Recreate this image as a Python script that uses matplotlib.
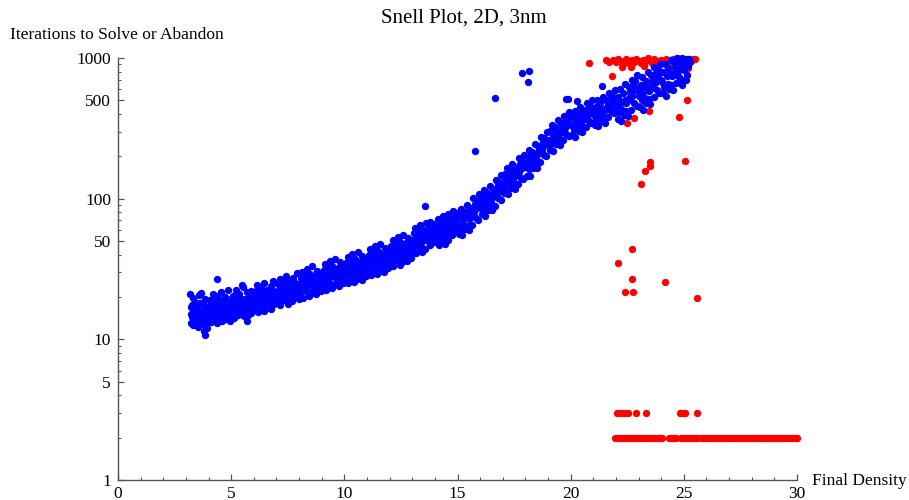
import matplotlib
matplotlib.use("Agg")
import matplotlib.pyplot as plt
from matplotlib.ticker import FixedLocator, NullFormatter

plt.rcParams['font.family'] = ['Liberation Serif', 'DejaVu Serif']

# ---------------- data ----------------
title = "Snell Plot, 2D, 3nm"
x_label = "Final Density"
y_label = "Iterations to Solve or Abandon"
x_ticks = [0, 5, 10, 15, 20, 25, 30]
y_ticks = [1, 5, 10, 50, 100, 500, 1000]

# solved runs (blue)
blue_x = [
    3.21, 3.23, 3.26, 3.28, 3.31, 3.33, 3.36, 3.38, 3.41, 3.43,
    3.46, 3.48, 3.51, 3.53, 3.56, 3.58, 3.61, 3.63, 3.66, 3.68,
    3.71, 3.73, 3.76, 3.78, 3.81, 3.83, 3.86, 3.88, 3.91, 3.93,
    3.96, 3.98, 3.24, 3.44, 3.64, 3.84, 3.35, 3.55, 3.75, 3.95,
    4.01, 4.04, 4.06, 4.09, 4.11, 4.14, 4.16, 4.19, 4.21, 4.24,
    4.26, 4.29, 4.31, 4.34, 4.36, 4.39, 4.41, 4.44, 4.46, 4.49,
    4.51, 4.54, 4.56, 4.59, 4.61, 4.64, 4.66, 4.69, 4.71, 4.74,
    4.76, 4.79, 4.81, 4.84, 4.86, 4.89, 4.91, 4.94, 4.96, 4.99,
    5.02, 5.05, 5.08, 5.11, 5.14, 5.17, 5.2, 5.23, 5.26, 5.29,
    5.32, 5.35, 5.38, 5.41, 5.44, 5.47, 5.5, 5.53, 5.56, 5.59,
    5.62, 5.65, 5.68, 5.71, 5.74, 5.77, 5.8, 5.83, 5.86, 5.89,
    5.92, 5.95, 5.98, 5.12, 5.37, 5.61, 5.85, 5.46, 5.72, 5.97,
    6.02, 6.05, 6.08, 6.11, 6.14, 6.17, 6.2, 6.23, 6.26, 6.29,
    6.32, 6.35, 6.38, 6.41, 6.44, 6.47, 6.5, 6.53, 6.56, 6.59,
    6.62, 6.65, 6.68, 6.71, 6.74, 6.77, 6.8, 6.83, 6.86, 6.89,
    6.92, 6.95, 6.98, 6.15, 6.4, 6.64, 6.88, 6.27, 6.52, 6.78,
    7.02, 7.05, 7.08, 7.11, 7.14, 7.17, 7.2, 7.23, 7.26, 7.29,
    7.32, 7.35, 7.38, 7.41, 7.44, 7.47, 7.5, 7.53, 7.56, 7.59,
    7.62, 7.65, 7.68, 7.71, 7.74, 7.77, 7.8, 7.83, 7.86, 7.89,
    7.92, 7.95, 7.98, 7.16, 7.4, 7.64, 7.88, 7.28, 7.52, 7.76,
    8.02, 8.05, 8.08, 8.11, 8.14, 8.17, 8.2, 8.23, 8.26, 8.29,
    8.32, 8.35, 8.38, 8.41, 8.44, 8.47, 8.5, 8.53, 8.56, 8.59,
    8.62, 8.65, 8.68, 8.71, 8.74, 8.77, 8.8, 8.83, 8.86, 8.89,
    8.92, 8.95, 8.98, 8.16, 8.4, 8.64, 8.88, 8.28, 8.52, 8.76,
    9.02, 9.05, 9.08, 9.11, 9.14, 9.17, 9.2, 9.23, 9.26, 9.29,
    9.32, 9.35, 9.38, 9.41, 9.44, 9.47, 9.5, 9.53, 9.56, 9.59,
    9.62, 9.65, 9.68, 9.71, 9.74, 9.77, 9.8, 9.83, 9.86, 9.89,
    9.92, 9.95, 9.98, 9.16, 9.4, 9.64, 9.88, 9.28, 9.52, 9.76,
    10.02, 10.05, 10.08, 10.11, 10.14, 10.17, 10.2, 10.23, 10.26, 10.29,
    10.32, 10.35, 10.38, 10.41, 10.44, 10.47, 10.5, 10.53, 10.56, 10.59,
    10.62, 10.65, 10.68, 10.71, 10.74, 10.77, 10.8, 10.83, 10.86, 10.89,
    10.92, 10.95, 10.98, 10.16, 10.4, 10.64, 10.88, 10.28, 10.52, 10.76,
    11.02, 11.05, 11.08, 11.11, 11.14, 11.17, 11.2, 11.23, 11.26, 11.29,
    11.32, 11.35, 11.38, 11.41, 11.44, 11.47, 11.5, 11.53, 11.56, 11.59,
    11.62, 11.65, 11.68, 11.71, 11.74, 11.77, 11.8, 11.83, 11.86, 11.89,
    11.92, 11.95, 11.98, 11.16, 11.4, 11.64, 11.88, 11.28, 11.52, 11.76,
    12.02, 12.05, 12.08, 12.11, 12.14, 12.17, 12.2, 12.23, 12.26, 12.29,
    12.32, 12.35, 12.38, 12.41, 12.44, 12.47, 12.5, 12.53, 12.56, 12.59,
    12.62, 12.65, 12.68, 12.71, 12.74, 12.77, 12.8, 12.83, 12.86, 12.89,
    12.92, 12.95, 12.98, 12.16, 12.4, 12.64, 12.88, 12.28, 12.52, 12.76,
    13.02, 13.05, 13.08, 13.11, 13.14, 13.17, 13.2, 13.23, 13.26, 13.29,
    13.32, 13.35, 13.38, 13.41, 13.44, 13.47, 13.5, 13.53, 13.56, 13.59,
    13.62, 13.65, 13.68, 13.71, 13.74, 13.77, 13.8, 13.83, 13.86, 13.89,
    13.92, 13.95, 13.98, 13.16, 13.4, 13.64, 13.88, 13.28, 13.52, 13.76,
    14.02, 14.05, 14.08, 14.11, 14.14, 14.17, 14.2, 14.23, 14.26, 14.29,
    14.32, 14.35, 14.38, 14.41, 14.44, 14.47, 14.5, 14.53, 14.56, 14.59,
    14.62, 14.65, 14.68, 14.71, 14.74, 14.77, 14.8, 14.83, 14.86, 14.89,
    14.92, 14.95, 14.98, 14.16, 14.4, 14.64, 14.88, 14.28, 14.52, 14.76,
    15.03, 15.07, 15.1, 15.14, 15.17, 15.21, 15.24, 15.28, 15.31, 15.35,
    15.38, 15.42, 15.45, 15.49, 15.52, 15.56, 15.59, 15.63, 15.66, 15.7,
    15.73, 15.77, 15.8, 15.84, 15.87, 15.91, 15.94, 15.98, 15.5, 15.6,
    16.03, 16.07, 16.1, 16.14, 16.17, 16.21, 16.24, 16.28, 16.31, 16.35,
    16.38, 16.42, 16.45, 16.49, 16.52, 16.56, 16.59, 16.63, 16.66, 16.7,
    16.73, 16.77, 16.8, 16.84, 16.87, 16.91, 16.94, 16.98, 16.5, 16.6,
    16.2, 16.46, 16.7, 16.88, 16.12, 16.33,
    17.03, 17.07, 17.1, 17.14, 17.17, 17.21, 17.24, 17.28, 17.31, 17.35,
    17.38, 17.42, 17.45, 17.49, 17.52, 17.56, 17.59, 17.63, 17.66, 17.7,
    17.73, 17.77, 17.8, 17.84, 17.87, 17.91, 17.94, 17.98, 17.5, 17.6,
    17.2, 17.45, 17.68, 17.88, 17.12, 17.33,
    18.03, 18.07, 18.1, 18.14, 18.17, 18.21, 18.24, 18.28, 18.31, 18.35,
    18.38, 18.42, 18.45, 18.49, 18.52, 18.56, 18.59, 18.63, 18.66, 18.7,
    18.73, 18.77, 18.8, 18.84, 18.87, 18.91, 18.94, 18.98, 18.5, 18.6,
    18.2, 18.45, 18.68, 18.88, 18.12, 18.33,
    19.03, 19.07, 19.1, 19.14, 19.17, 19.21, 19.24, 19.28, 19.31, 19.35,
    19.38, 19.42, 19.45, 19.49, 19.52, 19.56, 19.59, 19.63, 19.66, 19.7,
    19.73, 19.77, 19.8, 19.84, 19.87, 19.91, 19.94, 19.98, 19.5, 19.6,
    19.2, 19.45, 19.68, 19.88, 19.8, 19.9,
    20.03, 20.07, 20.1, 20.14, 20.17, 20.21, 20.24, 20.28, 20.31, 20.35,
    20.38, 20.42, 20.45, 20.49, 20.52, 20.56, 20.59, 20.63, 20.66, 20.7,
    20.73, 20.77, 20.8, 20.84, 20.87, 20.91, 20.94, 20.98, 20.5, 20.6,
    20.2, 20.45, 20.68, 20.88, 20.27,
    21.03, 21.07, 21.1, 21.14, 21.17, 21.21, 21.24, 21.28, 21.31, 21.35,
    21.38, 21.42, 21.45, 21.49, 21.52, 21.56, 21.59, 21.63, 21.66, 21.7,
    21.73, 21.77, 21.8, 21.84, 21.87, 21.91, 21.94, 21.98, 21.5, 21.37,
    21.2, 21.45, 21.68, 21.88,
    22.03, 22.07, 22.1, 22.14, 22.17, 22.21, 22.24, 22.28, 22.31, 22.35,
    22.38, 22.42, 22.45, 22.49, 22.52, 22.56, 22.59, 22.63, 22.66, 22.7,
    22.73, 22.77, 22.8, 22.84, 22.87, 22.91, 22.94, 22.98, 22.5, 22.6,
    22.2, 22.45, 22.68, 22.88,
    23.03, 23.07, 23.1, 23.14, 23.17, 23.21, 23.24, 23.28, 23.31, 23.35,
    23.38, 23.42, 23.45, 23.49, 23.52, 23.56, 23.59, 23.63, 23.66, 23.7,
    23.73, 23.77, 23.8, 23.84, 23.87, 23.91, 23.94, 23.98, 23.5, 23.6,
    23.2, 23.45, 23.68, 23.88,
    24.03, 24.07, 24.1, 24.14, 24.17, 24.21, 24.24, 24.28, 24.31, 24.35,
    24.38, 24.42, 24.45, 24.49, 24.52, 24.56, 24.59, 24.63, 24.66, 24.7,
    24.73, 24.77, 24.8, 24.84, 24.87, 24.91, 24.94, 24.98, 24.5, 24.6,
    25.02, 25.06, 25.1, 25.14, 25.18, 25.22, 25.26, 24.92, 25.13, 24.72,
    16.66, 17.84, 18.18, 18.1, 15.76, 13.57, 3.18, 4.36, 3.84,
]
blue_y = [
    15.2, 13.1, 17.6, 14.4, 19.8, 12.6, 16.3, 14.9, 18.4, 13.5,
    16.1, 14.0, 17.2, 12.3, 20.6, 15.4, 13.8, 18.1, 12.9, 21.5,
    15.8, 13.3, 17.9, 11.4, 16.6, 14.2, 19.2, 12.7, 15.1, 17.0,
    13.9, 16.8, 16.9, 15.9, 14.7, 15.5, 17.1, 14.6, 15.0, 12.1,
    17.3, 14.1, 19.0, 15.6, 13.2, 18.2, 16.0, 21.0, 14.8, 16.9,
    13.7, 18.7, 15.3, 20.2, 16.4, 13.0, 17.7, 14.5, 19.5, 15.9,
    17.0, 14.0, 21.8, 16.2, 13.6, 18.9, 15.2, 17.5, 14.3, 20.0,
    16.6, 13.9, 18.0, 15.7, 22.4, 14.6, 17.2, 16.1, 13.4, 19.3,
    17.6, 15.0, 20.3, 16.4, 14.2, 19.1, 17.9, 22.6, 15.7, 18.5,
    14.8, 21.1, 17.0, 19.8, 15.4, 18.2, 16.3, 23.5, 14.6, 19.4,
    17.4, 15.9, 21.6, 18.8, 14.9, 20.1, 16.8, 19.0, 15.3, 22.0,
    18.1, 16.5, 20.7, 18.6, 17.4, 16.7, 17.8, 24.5, 13.6, 17.2,
    19.2, 16.4, 22.0, 17.8, 24.3, 15.6, 20.5, 18.4, 21.4, 16.9,
    23.1, 19.0, 17.3, 21.0, 15.9, 25.2, 18.7, 20.1, 16.6, 22.6,
    19.6, 17.5, 21.8, 18.1, 23.8, 16.3, 20.8, 19.3, 26.0, 17.9,
    21.2, 18.6, 20.0, 19.8, 20.2, 20.4, 22.2, 17.0, 19.5, 21.6,
    21.5, 18.3, 24.6, 20.0, 17.4, 26.8, 22.5, 19.4, 23.7, 20.9,
    18.9, 25.4, 21.8, 28.3, 19.7, 23.2, 17.8, 22.0, 26.1, 20.4,
    24.0, 21.2, 18.6, 27.3, 22.8, 19.9, 25.0, 23.4, 20.6, 29.4,
    22.3, 24.8, 19.2, 22.9, 23.0, 22.4, 24.4, 21.7, 23.6, 21.0,
    24.2, 20.6, 27.5, 22.8, 30.1, 19.8, 25.7, 23.5, 28.6, 21.9,
    26.4, 31.8, 22.2, 24.9, 20.3, 29.0, 25.3, 27.1, 21.4, 33.0,
    23.9, 26.8, 22.5, 28.2, 25.0, 20.9, 30.7, 24.5, 27.8, 23.2,
    26.0, 22.0, 29.5, 25.9, 26.2, 25.5, 25.6, 24.0, 24.6, 26.6,
    27.6, 23.4, 31.2, 25.8, 34.5, 22.6, 29.3, 26.7, 32.4, 24.8,
    30.0, 36.2, 25.2, 28.4, 23.0, 33.3, 28.9, 31.0, 24.3, 37.4,
    27.2, 30.6, 25.6, 32.0, 28.6, 23.8, 35.2, 28.0, 31.6, 26.4,
    29.7, 25.1, 33.8, 29.0, 29.8, 29.2, 29.4, 27.9, 28.2, 30.3,
    30.8, 26.0, 34.9, 28.7, 38.4, 25.2, 32.7, 29.8, 36.1, 27.6,
    33.4, 40.3, 28.0, 31.6, 25.6, 37.1, 32.2, 34.6, 27.0, 41.6,
    30.3, 34.1, 28.5, 35.7, 31.9, 26.6, 39.2, 31.2, 35.2, 29.4,
    33.0, 28.0, 37.7, 32.3, 33.2, 32.5, 32.8, 31.0, 31.4, 33.7,
    35.1, 29.7, 39.8, 32.7, 43.8, 28.7, 37.3, 34.0, 41.2, 31.5,
    38.1, 46.0, 32.0, 36.0, 29.2, 42.3, 36.7, 39.4, 30.8, 47.4,
    34.6, 38.9, 32.5, 40.7, 36.4, 30.3, 44.7, 35.6, 40.1, 33.5,
    37.6, 31.9, 43.0, 36.8, 37.8, 37.0, 37.4, 35.3, 35.8, 38.4,
    40.6, 34.4, 46.1, 37.9, 50.7, 33.2, 43.2, 39.4, 47.7, 36.5,
    44.1, 53.3, 37.1, 41.7, 33.8, 49.0, 42.5, 45.6, 35.7, 55.0,
    41.0, 46.0, 38.5, 48.2, 43.1, 35.9, 52.9, 42.1, 47.5, 39.7,
    44.5, 37.8, 50.9, 42.2, 43.4, 42.0, 43.9, 41.2, 40.0, 44.8,
    50.0, 42.5, 56.6, 46.7, 62.3, 41.0, 53.2, 48.6, 58.7, 45.0,
    54.3, 65.5, 45.8, 51.4, 41.7, 60.3, 52.4, 56.2, 44.0, 67.6,
    53.1, 59.6, 49.8, 62.4, 55.7, 46.5, 68.5, 54.6, 61.6, 51.4,
    57.7, 49.0, 65.9, 52.0, 53.6, 54.0, 56.5, 50.6, 51.0, 55.9,
    57.5, 48.9, 65.1, 53.7, 71.6, 47.2, 61.2, 55.9, 67.5, 51.8,
    62.6, 75.3, 52.7, 59.1, 48.0, 69.4, 60.3, 64.7, 50.6, 77.8,
    64.0, 71.4, 59.5, 74.5, 66.6, 55.5, 81.7, 65.3, 73.6, 61.4,
    68.9, 58.5, 78.8, 62.0, 63.6, 62.8, 66.0, 60.0, 57.0, 63.3,
    66.0, 56.4, 75.9, 61.2, 84.5, 55.0, 71.3, 64.7, 80.3, 60.6,
    73.9, 90.2, 64.4, 72.0, 60.0, 86.1, 76.0, 82.1, 64.7, 100.5,
    80.4, 91.0, 73.2, 96.4, 85.5, 71.0, 108.0, 86.6, 78.0, 79.5,
    90.0, 77.2, 103.1, 83.6, 114.5, 75.4, 97.5, 88.6, 109.0, 83.2,
    101.2, 123.0, 88.8, 99.0, 82.6, 118.0, 104.5, 112.3, 89.3, 136.4,
    110.2, 124.2, 100.5, 131.0, 117.0, 97.9, 146.5, 118.9, 105.0, 107.6,
    98.4, 93.0, 114.0, 125.0, 95.0, 100.0,
    130.0, 110.5, 149.0, 120.3, 165.0, 108.6, 140.0, 127.4, 157.0, 118.8,
    145.0, 177.0, 126.6, 141.5, 117.4, 168.0, 148.2, 160.5, 127.0, 193.0,
    155.4, 175.0, 141.0, 184.0, 165.0, 137.7, 205.0, 167.0, 150.0, 152.0,
    138.0, 133.0, 158.0, 176.0, 135.0, 143.0,
    172.0, 146.0, 199.0, 162.0, 222.0, 145.0, 190.0, 171.0, 215.0, 164.0,
    201.0, 246.0, 176.0, 198.0, 165.0, 238.0, 212.0, 230.0, 182.0, 276.0,
    223.0, 252.0, 205.0, 268.0, 240.0, 200.0, 300.0, 245.0, 210.0, 218.0,
    188.0, 190.0, 226.0, 258.0, 180.0, 195.0,
    262.0, 222.0, 302.0, 245.0, 336.0, 218.0, 285.0, 256.0, 322.0, 246.0,
    298.0, 360.0, 258.0, 290.0, 240.0, 345.0, 305.0, 330.0, 262.0, 390.0,
    316.0, 355.0, 288.0, 372.0, 335.0, 280.0, 410.0, 338.0, 295.0, 300.0,
    270.0, 275.0, 312.0, 350.0, 510.0, 512.0,
    332.0, 282.0, 380.0, 310.0, 420.0, 276.0, 356.0, 322.0, 404.0, 305.0,
    372.0, 445.0, 318.0, 360.0, 296.0, 428.0, 378.0, 408.0, 325.0, 475.0,
    390.0, 436.0, 356.0, 455.0, 412.0, 346.0, 500.0, 415.0, 365.0, 370.0,
    340.0, 345.0, 385.0, 430.0, 497.0,
    392.0, 333.0, 450.0, 366.0, 500.0, 326.0, 420.0, 382.0, 478.0, 358.0,
    436.0, 528.0, 372.0, 425.0, 345.0, 505.0, 445.0, 482.0, 380.0, 560.0,
    458.0, 512.0, 418.0, 535.0, 485.0, 405.0, 590.0, 490.0, 430.0, 630.0,
    400.0, 410.0, 455.0, 470.0,
    452.0, 370.0, 530.0, 410.0, 600.0, 355.0, 490.0, 430.0, 565.0, 395.0,
    505.0, 650.0, 420.0, 495.0, 385.0, 620.0, 520.0, 575.0, 430.0, 700.0,
    540.0, 640.0, 480.0, 690.0, 590.0, 455.0, 760.0, 580.0, 500.0, 515.0,
    470.0, 480.0, 545.0, 610.0,
    540.0, 445.0, 640.0, 500.0, 730.0, 430.0, 600.0, 520.0, 690.0, 480.0,
    620.0, 790.0, 515.0, 600.0, 470.0, 760.0, 640.0, 700.0, 530.0, 860.0,
    660.0, 780.0, 590.0, 830.0, 720.0, 560.0, 910.0, 700.0, 610.0, 625.0,
    570.0, 580.0, 660.0, 750.0,
    670.0, 560.0, 790.0, 620.0, 900.0, 540.0, 740.0, 650.0, 850.0, 600.0,
    770.0, 960.0, 640.0, 740.0, 590.0, 930.0, 790.0, 860.0, 660.0, 990.0,
    810.0, 950.0, 730.0, 980.0, 880.0, 700.0, 995.0, 860.0, 760.0, 780.0,
    820.0, 960.0, 700.0, 990.0, 880.0, 985.0, 940.0, 640.0, 760.0, 998.0,
    521.0, 785.0, 811.0, 671.0, 219.0, 88.0, 20.9, 26.7, 10.8,
]

# abandoned / failed runs (red)
red_x = [
    # near the iteration cap
    20.83, 21.55, 21.7, 21.85, 22.0, 22.1, 22.2, 22.35, 22.45, 22.55,
    22.6, 22.7, 22.8, 22.9, 23.0, 23.1, 23.2, 23.3, 23.4, 23.5,
    23.6, 23.7, 23.85, 24.0, 24.1, 24.2, 24.3, 24.4, 24.5, 24.6,
    24.7, 24.8, 24.9, 25.0, 25.1, 25.2, 25.35, 25.5, 22.65, 23.25,
    22.25, 24.35,
    # scattered
    25.13, 24.80, 22.80, 22.48, 23.45, 21.84, 23.14, 25.2, 25.42,
    25.06, 23.52, 23.52, 23.29, 23.11, 22.73, 22.08, 22.70, 24.16,
    22.42, 22.74, 25.60,
    # three iterations
    22.05, 22.15, 22.28, 22.4, 22.55, 22.88, 23.33, 24.85, 24.95, 25.05, 25.6,
    # two iterations
    21.98, 22.06, 22.14, 22.21, 22.29, 22.36, 22.44, 22.51, 22.58, 22.66,
    22.73, 22.8, 22.88, 22.95, 23.03, 23.1, 23.19, 23.27, 23.4, 23.48,
    23.56, 23.64, 23.72, 23.8, 23.88, 23.96, 24.02, 24.34, 24.42, 24.5,
    24.58, 24.66, 24.86, 24.94, 25.02, 25.1, 25.18, 25.26, 25.34, 25.42,
    25.5, 25.58, 25.64, 25.8, 25.88, 25.96, 26.04, 26.12, 26.2, 26.28,
    26.36, 26.44, 26.52, 26.6, 26.68, 26.76, 26.84, 26.92, 27.0, 27.08,
    27.16, 27.24, 27.32, 27.4, 27.48, 27.56, 27.64, 27.72, 27.8, 27.88,
    27.96, 28.04, 28.12, 28.2, 28.28, 28.36, 28.44, 28.52, 28.6, 28.68,
    28.76, 28.84, 28.92, 29.0, 29.08, 29.16, 29.24, 29.32, 29.4, 29.48,
    29.56, 29.64, 29.72, 29.8, 29.88, 29.96, 30.0,
]
red_y = [
    925, 960, 930, 975, 940, 990, 955, 920, 985, 945,
    900, 970, 930, 990, 950, 915, 975, 940, 995, 960,
    925, 985, 950, 970, 930, 990, 955, 910, 980, 940,
    995, 960, 920, 975, 945, 990, 960, 985, 860, 880,
    870, 850,
    505, 379, 372, 343, 417, 748, 642, 843, 985,
    185, 181, 171, 157, 127, 43.6, 34.7, 26.7, 25.7,
    21.7, 21.7, 19.8,
    3, 3, 3, 3, 3, 3, 3, 3, 3, 3, 3,
    2, 2, 2, 2, 2, 2, 2, 2, 2, 2,
    2, 2, 2, 2, 2, 2, 2, 2, 2, 2,
    2, 2, 2, 2, 2, 2, 2, 2, 2, 2,
    2, 2, 2, 2, 2, 2, 2, 2, 2, 2,
    2, 2, 2, 2, 2, 2, 2, 2, 2, 2,
    2, 2, 2, 2, 2, 2, 2, 2, 2, 2,
    2, 2, 2, 2, 2, 2, 2, 2, 2, 2,
    2, 2, 2, 2, 2, 2, 2, 2, 2, 2,
    2, 2, 2, 2, 2, 2, 2, 2, 2, 2,
    2, 2, 2, 2, 2, 2, 2,
]

nb = min(len(blue_x), len(blue_y))
nr = min(len(red_x), len(red_y))
if len(blue_x) != len(blue_y) or len(red_x) != len(red_y):
    print("length mismatch", len(blue_x), len(blue_y), len(red_x), len(red_y))

# ---------------- figure ----------------
W, H = 909, 500
fig = plt.figure(figsize=(W / 100, H / 100), dpi=100)
ax = fig.add_axes([118 / W, 1 - 480 / H, (797 - 118) / W, (480 - 58) / H])

ax.set_xscale('linear')
ax.set_yscale('log')
ax.set_xlim(0, 30)
ax.set_ylim(1, 1000)

ax.scatter(red_x[:nr], red_y[:nr], s=28, color='#ff0000', linewidths=0,
           clip_on=False, zorder=2)
ax.scatter(blue_x[:nb], blue_y[:nb], s=28, color='#0000ff', linewidths=0,
           clip_on=False, zorder=3)

axis_col = '#555555'
for side in ['top', 'right']:
    ax.spines[side].set_visible(False)
for side in ['left', 'bottom']:
    ax.spines[side].set_color(axis_col)
    ax.spines[side].set_linewidth(1.0)

ax.xaxis.set_major_locator(FixedLocator(x_ticks))
ax.xaxis.set_minor_locator(FixedLocator([v for v in range(0, 31) if v % 5 != 0]))
ax.set_xticklabels([str(v) for v in x_ticks])
minor_y = []
for dec in [1, 10, 100]:
    for m in range(2, 10):
        if m != 5:
            minor_y.append(m * dec)
ax.yaxis.set_major_locator(FixedLocator(y_ticks))
ax.yaxis.set_minor_locator(FixedLocator(minor_y))
ax.yaxis.set_minor_formatter(NullFormatter())
ax.set_yticklabels([str(v) for v in y_ticks])

ax.tick_params(axis='both', which='major', direction='in', length=4.5, width=0.9,
               color=axis_col, labelsize=12.5, labelcolor='black', pad=4)
ax.tick_params(axis='both', which='minor', direction='in', length=2.5, width=0.8,
               color=axis_col)
ax.tick_params(axis='y', which='major', pad=5)
ax.set_facecolor('none')

fig.text(464 / W, 1 - 18 / H, title, ha='center', va='center', fontsize=15)
fig.text(117 / W, 1 - 35 / H, y_label, ha='center', va='center', fontsize=12.5)
fig.text(812 / W, 1 - 481 / H, x_label, ha='left', va='center', fontsize=12.5)

fig.savefig('out.png', dpi=100)
